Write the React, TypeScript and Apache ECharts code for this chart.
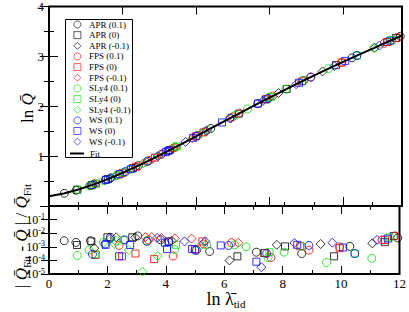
import React, { useEffect, useRef } from "react";
import * as echarts from "echarts";

// Each point: [ln lambda_tid, ln Q, |Q_fit - Q| / Q_fit]
const APR_p01 = [[0.52,0.255,0.0028],[0.92,0.316,0.0021],[1.42,0.411,0.0028],[2.1,0.563,0.005],[3.04,0.809,0.0063],[3.82,1.035,0.0033],[5.05,1.414,0.00056],[5.5,1.555,0.00045],[7.1,2.053,0.0004],[8.65,2.514,0.00032],[10.3,2.971,0.00107],[11.94,3.403,0.0045]];
const APR_0 = [[0.96,0.324,0.00135],[1.45,0.418,0.0025],[2.0,0.539,0.005],[2.85,0.757,0.005],[4.1,1.12,0.0025],[6.45,1.852,0.0002],[7.37,2.136,0.00035],[8.08,2.348,0.00107],[9.76,2.824,0.0002],[11.5,3.288,0.0022],[11.8,3.367,0.0063]];
const APR_m01 = [[1.55,0.438,0.00079],[2.3,0.613,0.005],[2.95,0.784,0.005],[4.2,1.15,0.0028],[6.18,1.768,0.0001],[7.8,2.265,0.0014],[9.3,2.698,0.0016],[11.07,3.174,0.0018]];
const FPS_p01 = [[2.4,0.638,0.00126],[3.4,0.911,0.0032],[4.25,1.165,0.00021],[5.3,1.492,0.0016],[6.25,1.79,0.002],[7.6,2.205,0.00016],[8.9,2.585,0.00056],[9.95,2.876,0.001],[11.4,3.262,0.0032],[11.85,3.38,0.0063]];
const FPS_0 = [[1.6,0.449,0.00025],[2.5,0.663,0.0002],[2.96,0.787,0.00032],[3.6,0.97,0.000126],[5.0,1.398,0.00068],[5.25,1.476,0.0025],[7.4,2.145,0.00035],[8.6,2.5,0.0011],[9.95,2.876,0.00079],[11.5,3.288,0.0032]];
const FPS_m01 = [[3.3,0.883,0.0052],[3.52,0.946,0.0052],[3.85,1.044,0.0045],[4.31,1.183,0.0042],[4.88,1.36,0.004],[6.48,1.862,0.002]];
const SLY4_p01 = [[0.97,0.326,0.00023],[1.37,0.403,0.00058],[1.86,0.508,0.0021],[2.3,0.613,0.0028],[2.55,0.677,0.0032],[3.35,0.897,0.0028],[4.3,1.18,0.00063],[5.4,1.524,0.0014],[6.35,1.821,0.0014],[6.75,1.946,0.001],[7.5,2.175,0.00016],[8.05,2.34,0.0004],[8.65,2.514,0.0011],[9.5,2.753,0.00007],[11.05,3.169,0.00014]];
const SLY4_0 = [[1.58,0.445,0.00028],[4.35,1.195,0.0014],[7.55,2.19,0.0004],[10.47,3.017,0.00032],[11.66,3.33,0.005]];
const SLY4_m01 = [[2.25,0.601,0.0016],[2.73,0.725,0.00058],[3.2,0.854,0.000015],[3.72,1.005,0.00021],[5.2,1.46,0.00126]];
const WS_p01 = [[1.49,0.426,0.00028],[1.92,0.521,0.0016],[2.6,0.69,0.0032],[3.35,0.897,0.0025],[4.1,1.12,0.0022],[5.0,1.398,0.00056],[6.15,1.759,0.00126],[7.45,2.16,0.00032],[8.9,2.585,0.00126],[10.47,3.017,0.00032]];
const WS_0 = [[1.94,0.526,0.0014],[2.4,0.638,0.0002],[2.78,0.738,0.00135],[3.97,1.08,0.002],[4.04,1.1,0.00068],[4.9,1.367,0.00068],[5.88,1.675,0.00126],[7.1,2.053,0.00008],[8.5,2.471,0.0014],[10.07,2.909,0.00089],[11.6,3.314,0.004]];
const WS_m01 = [[2.1,0.563,0.004],[3.7,1.0,0.0045],[4.64,1.286,0.0025],[5.35,1.508,0.0025],[7.27,2.105,0.000032],[8.4,2.442,0.0019],[9.7,2.808,0.002],[11.23,3.217,0.0032]];

// Fit curve
const FIT_X = [0,0.5,1,1.5,2,2.5,3,3.5,4,4.5,5,5.5,6,6.5,7,7.5,8,8.5,9,9.5,10,10.5,11,11.5,12];
const FIT_Y = [0.194,0.252,0.331,0.428,0.539,0.663,0.798,0.940,1.089,1.242,1.398,1.555,1.712,1.868,2.023,2.175,2.325,2.471,2.614,2.753,2.890,3.025,3.156,3.288,3.419];

const GROUPS = [
  { name: "APR (0.1)", data: APR_p01, color: "#000000", symbol: "circle" },
  { name: "APR (0)", data: APR_0, color: "#000000", symbol: "rect" },
  { name: "APR (-0.1)", data: APR_m01, color: "#000000", symbol: "diamond" },
  { name: "FPS (0.1)", data: FPS_p01, color: "#ff0000", symbol: "circle" },
  { name: "FPS (0)", data: FPS_0, color: "#ff0000", symbol: "rect" },
  { name: "FPS (-0.1)", data: FPS_m01, color: "#ff0000", symbol: "diamond" },
  { name: "SLy4 (0.1)", data: SLY4_p01, color: "#00e000", symbol: "circle" },
  { name: "SLy4 (0)", data: SLY4_0, color: "#00e000", symbol: "rect" },
  { name: "SLy4 (-0.1)", data: SLY4_m01, color: "#00e000", symbol: "diamond" },
  { name: "WS (0.1)", data: WS_p01, color: "#0000ff", symbol: "circle" },
  { name: "WS (0)", data: WS_0, color: "#0000ff", symbol: "rect" },
  { name: "WS (-0.1)", data: WS_m01, color: "#0000ff", symbol: "diamond" },
];

const SERIF = "Liberation Serif, Times New Roman, serif";
const SUP = ["", "-1", "-2", "-3", "-4", "-5"];

export default function App() {
  const ref = useRef<HTMLDivElement>(null);
  useEffect(() => {
    if (!ref.current) return;
    const chart = echarts.init(ref.current, undefined, { renderer: "svg" });
    const symSize = (s: string) => (s === "diamond" ? 9 : s === "rect" ? 7 : 8);
    const series: any[] = [];
    GROUPS.forEach((g) => {
      const st = { color: "rgba(0,0,0,0)", borderColor: g.color, borderWidth: 1 };
      series.push({
        name: g.name, type: "scatter", xAxisIndex: 0, yAxisIndex: 0,
        symbol: g.symbol, symbolSize: symSize(g.symbol), itemStyle: st,
        data: g.data.map((p) => [p[0], p[1]]),
      });
      series.push({
        name: g.name, type: "scatter", xAxisIndex: 3, yAxisIndex: 2,
        symbol: g.symbol, symbolSize: symSize(g.symbol), itemStyle: st,
        data: g.data.map((p) => [p[0], p[2]]),
      });
    });
    series.push({
      name: "Fit", type: "line", xAxisIndex: 0, yAxisIndex: 0, symbol: "none",
      lineStyle: { color: "#000", width: 2 }, itemStyle: { color: "#000" },
      data: FIT_X.map((x, i) => [x, FIT_Y[i]]), z: 5,
    });

    const tickIn = (len: number) => ({ show: true, inside: true, length: len, lineStyle: { color: "#000", width: 1 } });
    const noLine = { show: false };
    const noSplit = { show: false };
    const legendText = { fontSize: 9, fontFamily: SERIF, color: "#000", padding: [0, 0, 0, 3] };

    chart.setOption({
      animation: false,
      grid: [
        { left: 49, top: 6, width: 353, height: 200, show: true, borderColor: "#000", borderWidth: 2, backgroundColor: "transparent" },
        { left: 49, top: 206, width: 353, height: 68, show: true, borderColor: "#000", borderWidth: 2, backgroundColor: "transparent" },
      ],
      xAxis: [
        { gridIndex: 0, type: "value", min: 0, max: 12, interval: 2.5, position: "bottom", axisLine: noLine, splitLine: noSplit, axisTick: tickIn(9), axisLabel: { show: false } },
        { gridIndex: 0, type: "value", min: 0, max: 12, interval: 1, position: "bottom", axisLine: noLine, splitLine: noSplit, axisTick: tickIn(4), axisLabel: { show: false } },
        { gridIndex: 0, type: "value", min: 0, max: 12, interval: 2.5, position: "top", axisLine: noLine, splitLine: noSplit, axisTick: tickIn(8), axisLabel: { show: false } },
        { gridIndex: 1, type: "value", min: 0, max: 12, interval: 2, position: "bottom", axisLine: noLine, splitLine: noSplit, axisTick: tickIn(8),
          minorTick: { show: true, splitNumber: 2, length: 4, lineStyle: { color: "#000" } },
          axisLabel: { show: true, margin: 3, color: "#000", fontSize: 13, fontFamily: SERIF } },
        { gridIndex: 1, type: "value", min: 0, max: 12, interval: 2, position: "top", axisLine: noLine, splitLine: noSplit, axisTick: tickIn(8),
          minorTick: { show: true, splitNumber: 2, length: 4, lineStyle: { color: "#000" } }, axisLabel: { show: false } },
      ],
      yAxis: [
        { gridIndex: 0, type: "value", min: 0, max: 4, interval: 1, position: "left", axisLine: noLine, splitLine: noSplit, axisTick: tickIn(9),
          minorTick: { show: true, splitNumber: 2, length: 5, lineStyle: { color: "#000" } },
          axisLabel: { show: true, margin: 5, color: "#000", fontSize: 13, fontFamily: SERIF, formatter: (v: number) => (v === 0 ? "" : String(v)) } },
        { gridIndex: 0, type: "value", min: 0, max: 4, interval: 1, position: "right", axisLine: noLine, splitLine: noSplit, axisTick: tickIn(9),
          minorTick: { show: true, splitNumber: 2, length: 5, lineStyle: { color: "#000" } }, axisLabel: { show: false } },
        { gridIndex: 1, type: "log", logBase: 10, min: 0.00001, max: 1, position: "left", axisLine: noLine, splitLine: noSplit, axisTick: tickIn(8),
          axisLabel: { show: true, margin: 4, color: "#000", fontFamily: SERIF,
            formatter: (v: number) => {
              const e = Math.round(-Math.log10(v));
              return e <= 0 || e > 5 ? "" : "{b|10}{s|" + SUP[e] + "}";
            },
            rich: { b: { fontSize: 12, fontFamily: SERIF, color: "#000", lineHeight: 14 }, s: { fontSize: 8, fontFamily: SERIF, color: "#000", verticalAlign: "top", lineHeight: 10 } } } },
        { gridIndex: 1, type: "log", logBase: 10, min: 0.00001, max: 1, position: "right", axisLine: noLine, splitLine: noSplit, axisTick: tickIn(8), axisLabel: { show: false } },
      ],
      legend: [
        {
          show: true, orient: "vertical", left: 65, top: 20,
          data: GROUPS.map((g) => g.name),
          itemWidth: 7, itemHeight: 7, itemGap: 1.65,
          padding: [0, 0, 0, 8.5],
          itemStyle: { borderWidth: 0.8 },
          textStyle: legendText,
          selectedMode: false, z: 6,
        },
        {
          show: true, orient: "vertical", left: 65, top: 149,
          data: [{ name: "Fit", icon: "rect" }],
          itemWidth: 14, itemHeight: 2,
          padding: [0, 0, 0, 5],
          textStyle: { ...legendText, padding: [0, 0, 0, 1] },
          selectedMode: false, z: 6,
        },
      ],
      graphic: [
        { type: "rect", z: 5, shape: { x: 65.5, y: 19.5, width: 67, height: 138 },
          style: { fill: "#fff", stroke: "#000", lineWidth: 1 } },
        { type: "text", x: 27, y: 108, rotation: Math.PI / 2,
          style: { text: "{a|ln }{i|Q\u0304}", align: "center", verticalAlign: "middle",
            rich: { a: { fontSize: 17, fontFamily: SERIF, fill: "#000" }, i: { fontSize: 17, fontFamily: SERIF, fontStyle: "italic", fill: "#000" } } } },
        { type: "text", x: 21, y: 236, rotation: Math.PI / 2,
          style: { text: "{a|| }{i|Q\u0304}{s|Fit}{a| - }{i|Q\u0304}{a| | / }{i|Q\u0304}{s|Fit}", align: "center", verticalAlign: "middle",
            rich: {
              a: { fontSize: 17, fontFamily: SERIF, fill: "#000", lineHeight: 22 },
              i: { fontSize: 17, fontFamily: SERIF, fontStyle: "italic", fill: "#000", lineHeight: 22 },
              s: { fontSize: 11, fontFamily: SERIF, fill: "#000", verticalAlign: "bottom", lineHeight: 11 },
            } } },
        { type: "text", x: 226, y: 299,
          style: { text: "{a|ln }{a|\u03BB\u0304}{s|tid}", align: "center", verticalAlign: "middle",
            rich: {
              a: { fontSize: 18, fontFamily: SERIF, fill: "#000", lineHeight: 20 },
              s: { fontSize: 11, fontFamily: SERIF, fill: "#000", verticalAlign: "bottom", lineHeight: 10 },
            } } },
      ],
      series,
    });
    return () => chart.dispose();
  }, []);
  return <div ref={ref} style={{ position: "fixed", left: 0, top: 0, width: 409, height: 312, background: "#fff" }} />;
}
